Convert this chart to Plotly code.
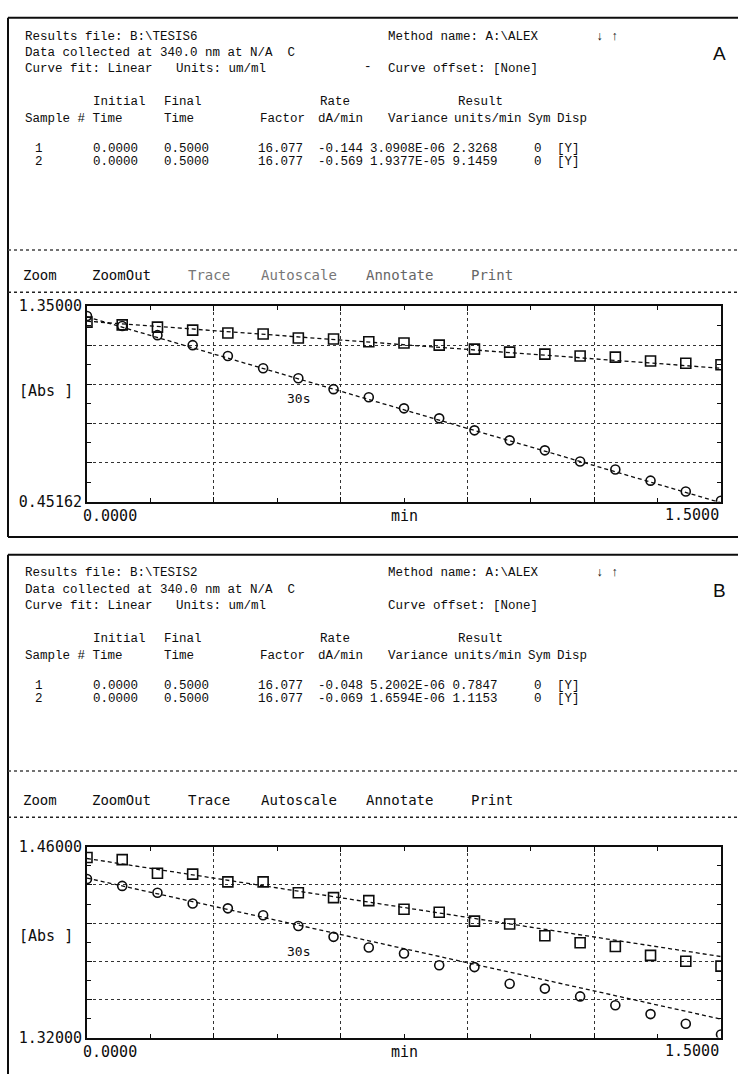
import numpy as np
import plotly.graph_objects as go

W, H = 738, 1078

# Sampling times (min), one reading every 5 s
t_min = [0.0, 0.0833, 0.1667, 0.25, 0.3333, 0.4167, 0.5, 0.5833, 0.6667, 0.75,
         0.8333, 0.9167, 1.0, 1.0833, 1.1667, 1.25, 1.3333, 1.4167, 1.5]

# Run A (file TESIS6): absorbance at 340 nm
a_s1 = [1.276, 1.263, 1.253, 1.239, 1.226, 1.221, 1.203, 1.198, 1.186, 1.180,
        1.170, 1.152, 1.138, 1.129, 1.120, 1.115, 1.097, 1.087, 1.080]
a_s2 = [1.304, 1.258, 1.216, 1.170, 1.120, 1.064, 1.018, 0.968, 0.931, 0.880,
        0.834, 0.779, 0.733, 0.687, 0.636, 0.599, 0.548, 0.498, 0.456]

# Run B (file TESIS2)
b_s1 = [1.4521, 1.4506, 1.4406, 1.4399, 1.4342, 1.4342, 1.4263, 1.4227, 1.4205, 1.4141,
        1.4119, 1.4054, 1.4033, 1.3947, 1.3896, 1.3868, 1.3803, 1.3760, 1.3724]
b_s2 = [1.4363, 1.4313, 1.4263, 1.4184, 1.4148, 1.4097, 1.4018, 1.3939, 1.3861, 1.3817,
        1.3731, 1.3717, 1.3595, 1.3559, 1.3502, 1.3437, 1.3372, 1.3301, 1.3222]

# Linear fits: rate (dA/min) from the results table, intercept (Abs at t=0)
a_rate = [-0.144, -0.569]
a_icpt = [1.280, 1.300]
b_rate = [-0.048, -0.069]
b_icpt = [1.4514, 1.437]

a_yrange = [0.45162, 1.35]
b_yrange = [1.32, 1.46]
a_ylabels = ["0.45162", "1.35000"]
b_ylabels = ["1.32000", "1.46000"]
x_labels = ["0.0000", "min", "1.5000"]

# Results table text
a_file = "B:\\TESIS6"
b_file = "B:\\TESIS2"
a_rows = [["1", "0.0000", "0.5000", "16.077", "-0.144", "3.0908E-06 2.3268", "0", "[Y]"],
          ["2", "0.0000", "0.5000", "16.077", "-0.569", "1.9377E-05 9.1459", "0", "[Y]"]]
b_rows = [["1", "0.0000", "0.5000", "16.077", "-0.048", "5.2002E-06 0.7847", "0", "[Y]"],
          ["2", "0.0000", "0.5000", "16.077", "-0.069", "1.6594E-06 1.1153", "0", "[Y]"]]
menu_items = ["Zoom", "ZoomOut", "Trace", "Autoscale", "Annotate", "Print"]

INK = "#0d0d0d"
HEAD_FONT = "Liberation Mono"
LCD_FONT = "DejaVu Sans Mono"
HS = 12.5


def px(x):
    return x / W


def py(y):
    return 1 - y / H


fig = go.Figure()
shapes = []
annotations = []


def text(x, y, s, size=HS, font=HEAD_FONT, color=INK, anchor="left"):
    annotations.append(dict(x=px(x), y=py(y), xref="paper", yref="paper", text=s,
                            showarrow=False, xanchor=anchor, yanchor="middle",
                            font=dict(family=font, size=size, color=color)))


def hline(y, x0, x1, width=2, dash="solid", color=INK):
    shapes.append(dict(type="line", xref="paper", yref="paper", x0=px(x0), x1=px(x1),
                       y0=py(y), y1=py(y), line=dict(color=color, width=width, dash=dash)))


def vline(x, y0, y1, width=2, color=INK):
    shapes.append(dict(type="line", xref="paper", yref="paper", x0=px(x), x1=px(x),
                       y0=py(y0), y1=py(y1), line=dict(color=color, width=width)))


def panel(top, bottom, letter, fname, rows, menu_sep, menu_y, menu_line, menu_colors,
          stray_dash=False):
    hline(top, 8, W)
    vline(8, top, bottom)
    if bottom < H:
        hline(bottom, 8, W)
    o = top
    text(23, o + 19, "Results file: " + fname)
    text(386, o + 19, "Method name: A:\\ALEX")
    text(594, o + 19, "\u2193 \u2191")
    text(719, o + 36, letter, size=19, font="Liberation Sans", anchor="center")
    text(23, o + 36, "Data collected at 340.0 nm at N/A  C")
    text(23, o + 52, "Curve fit: Linear")
    text(174, o + 52, "Units: um/ml")
    if stray_dash:
        text(362, o + 50, "-")
    text(386, o + 52, "Curve offset: [None]")
    text(91, o + 86, "Initial")
    text(162, o + 86, "Final")
    text(318, o + 86, "Rate")
    text(456, o + 86, "Result")
    text(23, o + 103, "Sample # Time")
    text(162, o + 103, "Time")
    text(258, o + 103, "Factor")
    text(316, o + 103, "dA/min")
    text(386, o + 103, "Variance")
    text(452, o + 103, "units/min")
    text(526, o + 103, "Sym")
    text(555, o + 103, "Disp")
    cols = [33, 91, 162, 256, 316, 368, 532, 555]
    for i, r in enumerate(rows):
        for c, s in zip(cols, r):
            text(c, o + 133 + 14 * i, s)
    hline(menu_sep, 8, W, width=1.5, dash="dot", color="#444")
    for (x, s), col in zip(zip([21, 90, 186, 259, 364, 469], menu_items), menu_colors):
        text(x, menu_y, s, size=14, font=LCD_FONT, color=col)
    hline(menu_line, 8, W, width=1.5, dash="dot", color="#222")


panel(9, 537, "A", a_file, a_rows, 245, 271, 288,
      [INK, INK, "#777", "#777", "#666", "#666"], stray_dash=True)
panel(555, H + 5, "B", b_file, b_rows, 775, 804, 822,
      [INK] * 6)


def add_run(xa, ya, s1, s2, rate, icpt):
    # fitted lines first, markers on top
    for r, b in zip(rate, icpt):
        fig.add_trace(go.Scatter(x=[t_min[0], t_min[-1]],
                                 y=[b + r * t_min[0], b + r * t_min[-1]],
                                 mode="lines", xaxis=xa, yaxis=ya, hoverinfo="skip",
                                 line=dict(color=INK, width=1.3, dash="4px,3px")))
    fig.add_trace(go.Scatter(x=t_min, y=s1, mode="markers", xaxis=xa, yaxis=ya,
                             marker=dict(symbol="square-open", size=10, color=INK,
                                         line=dict(width=1.6, color=INK))))
    fig.add_trace(go.Scatter(x=t_min, y=s2, mode="markers", xaxis=xa, yaxis=ya,
                             marker=dict(symbol="circle-open", size=9, color=INK,
                                         line=dict(width=1.6, color=INK))))


add_run("x", "y", a_s1, a_s2, a_rate, a_icpt)
add_run("x2", "y2", b_s1, b_s2, b_rate, b_icpt)


def xaxis_cfg(anchor):
    return dict(domain=[px(87), px(721)], anchor=anchor, range=[0, 1.5],
                tickvals=list(np.linspace(0, 1.5, 6)), showticklabels=False,
                ticks="inside", ticklen=5, tickcolor=INK,
                showgrid=True, gridcolor="#333", griddash="dot", gridwidth=1,
                showline=True, linecolor=INK, linewidth=2, mirror="allticks",
                zeroline=False,
                minor=dict(tickvals=list(np.linspace(0.15, 1.35, 5)), ticks="inside",
                           ticklen=4, tickcolor=INK, showgrid=False))


def yaxis_cfg(anchor, yr, labels, top, bottom):
    vals = list(np.linspace(yr[0], yr[1], 6))
    mids = [(vals[i] + vals[i + 1]) / 2 for i in range(5)]
    return dict(domain=[py(bottom), py(top)], anchor=anchor, range=yr,
                tickvals=vals, ticktext=[labels[0], "", "", "", "", labels[1]],
                ticks="inside", ticklen=5, tickcolor=INK,
                tickfont=dict(family=LCD_FONT, size=15, color=INK),
                showgrid=True, gridcolor="#333", griddash="dot", gridwidth=1,
                showline=True, linecolor=INK, linewidth=2, mirror="allticks",
                zeroline=False,
                minor=dict(tickvals=mids, ticks="inside", ticklen=4, tickcolor=INK,
                           showgrid=False))


def axis_text(xa, ya, yr, abs_y, tag_y):
    f = dict(family=LCD_FONT, size=15, color=INK)
    annotations.append(dict(x=0, y=yr[0], xref=xa, yref=ya, text=x_labels[0],
                            showarrow=False, xanchor="left", yanchor="top",
                            xshift=-6, yshift=-3, font=f))
    annotations.append(dict(x=0.75, y=yr[0], xref=xa, yref=ya, text=x_labels[1],
                            showarrow=False, xanchor="center", yanchor="top",
                            yshift=-3, font=f))
    annotations.append(dict(x=1.5, y=yr[0], xref=xa, yref=ya, text=x_labels[2],
                            showarrow=False, xanchor="right", yanchor="top",
                            yshift=-2, font=f))
    annotations.append(dict(x=0.5, y=tag_y, xref=xa, yref=ya, text="30s",
                            showarrow=False, xanchor="center", yanchor="middle",
                            font=dict(family=LCD_FONT, size=13, color=INK)))
    text(17, abs_y, "[Abs ]", size=15, font=LCD_FONT)


axis_text("x", "y", a_yrange, 388, 0.926)
axis_text("x2", "y2", b_yrange, 943, 1.383)

fig.update_layout(
    width=W, height=H, margin=dict(l=0, r=0, t=0, b=0),
    paper_bgcolor="white", plot_bgcolor="white", showlegend=False,
    xaxis=xaxis_cfg("y"), yaxis=yaxis_cfg("x", a_yrange, a_ylabels, 302, 501),
    xaxis2=xaxis_cfg("y2"), yaxis2=yaxis_cfg("x2", b_yrange, b_ylabels, 852, 1046),
    shapes=shapes, annotations=annotations,
)

fig.write_html("out.html")
